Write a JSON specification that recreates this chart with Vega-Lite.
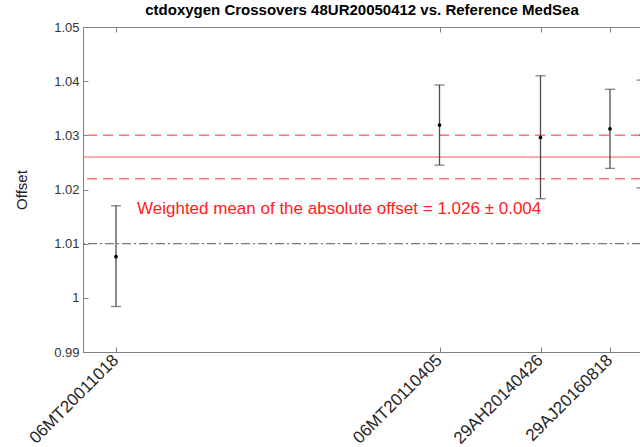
{
  "$schema": "https://vega.github.io/schema/vega-lite/v6.json",
  "width": 558,
  "height": 325,
  "autosize": {"type": "none"},
  "padding": {"left": 83, "top": 27, "right": 0, "bottom": 95},
  "title": {
    "text": "ctdoxygen Crossovers 48UR20050412 vs. Reference MedSea",
    "font": "Liberation Sans",
    "fontSize": 15,
    "fontWeight": "bold",
    "color": "#000000",
    "offset": 3
  },
  "config": {
    "font": "Liberation Sans",
    "view": {"stroke": "#808080", "strokeWidth": 1}
  },
  "datasets": {
    "crossovers": [
      {"name": "06MT20011018", "pos": 5.91, "offset": 1.0076, "lo": 0.9984, "hi": 1.0170},
      {"name": "06MT20110405", "pos": 63.89, "offset": 1.0319, "lo": 1.0245, "hi": 1.0393},
      {"name": "29AH20140426", "pos": 81.99, "offset": 1.0296, "lo": 1.0183, "hi": 1.0410},
      {"name": "29AJ20160818", "pos": 94.44, "offset": 1.0312, "lo": 1.0239, "hi": 1.0385},
      {"name": null, "pos": 100.1, "offset": 1.0301, "lo": 1.0203, "hi": 1.0402}
    ],
    "summary": [
      {"mean": 1.026, "lo": 1.022, "hi": 1.030, "reference": 1.01,
       "label": "Weighted mean of the absolute offset = 1.026 ± 0.004"}
    ]
  },
  "layer": [
    {
      "data": {"name": "summary"},
      "mark": {"type": "rule", "stroke": "#7a7a7a", "strokeWidth": 1.2, "strokeDash": [9, 3, 2, 3]},
      "encoding": {
        "y": {"field": "reference", "type": "quantitative",
              "scale": {"domain": [0.99, 1.05], "nice": false, "zero": false},
              "axis": {
                "title": "Offset",
                "titleFontSize": 15,
                "titleFontWeight": "normal",
                "titleColor": "#222222",
                "titlePadding": 24,
                "values": [0.99, 1.0, 1.01, 1.02, 1.03, 1.04, 1.05],
                "format": ".3~g",
                "labelFontSize": 13,
                "labelColor": "#333333",
                "labelPadding": 9,
                "tickSize": -5,
                "tickColor": "#808080",
                "domain": false,
                "grid": false
              }}
      }
    },
    {
      "data": {"name": "summary"},
      "mark": {"type": "rule", "stroke": "#ff5c5c", "strokeWidth": 1.2},
      "encoding": {"y": {"field": "mean", "type": "quantitative"}}
    },
    {
      "data": {"name": "summary"},
      "mark": {"type": "rule", "stroke": "#ff7070", "strokeWidth": 1.5, "strokeDash": [10, 6], "opacity": 1},
      "encoding": {"y": {"field": "lo", "type": "quantitative"}}
    },
    {
      "data": {"name": "summary"},
      "mark": {"type": "rule", "stroke": "#ff7070", "strokeWidth": 1.5, "strokeDash": [10, 6], "opacity": 1},
      "encoding": {"y": {"field": "hi", "type": "quantitative"}}
    },
    {
      "data": {"name": "summary"},
      "mark": {"type": "text", "fill": "#ff2020", "fontSize": 17, "align": "left", "baseline": "alphabetic"},
      "encoding": {
        "x": {"datum": 9.68, "type": "quantitative", "axis": null},
        "y": {"datum": 1.01545, "type": "quantitative"},
        "text": {"field": "label"}
      }
    },
    {
      "data": {"name": "crossovers"},
      "mark": {"type": "rule", "color": "#4d4d4d", "strokeWidth": 1.3},
      "encoding": {
        "x": {"field": "pos", "type": "quantitative",
              "scale": {"domain": [0, 100], "nice": false, "zero": false},
              "axis": {
                "orient": "bottom",
                "title": null,
                "values": [5.91, 63.89, 81.99, 94.44],
                "labels": false,
                "tickSize": -5,
                "tickColor": "#808080",
                "domain": false,
                "grid": false
              }},
        "y": {"field": "lo", "type": "quantitative"},
        "y2": {"field": "hi"}
      }
    },
    {
      "data": {"name": "crossovers"},
      "mark": {"type": "tick", "orient": "horizontal", "size": 10, "thickness": 1.3, "color": "#4d4d4d"},
      "encoding": {
        "x": {"field": "pos", "type": "quantitative", "axis": null},
        "y": {"field": "lo", "type": "quantitative"}
      }
    },
    {
      "data": {"name": "crossovers"},
      "mark": {"type": "tick", "orient": "horizontal", "size": 10, "thickness": 1.3, "color": "#4d4d4d"},
      "encoding": {
        "x": {"field": "pos", "type": "quantitative", "axis": null},
        "y": {"field": "hi", "type": "quantitative"}
      }
    },
    {
      "data": {"name": "crossovers"},
      "mark": {"type": "point", "filled": true, "size": 14, "color": "#000000", "opacity": 1},
      "encoding": {
        "x": {"field": "pos", "type": "quantitative",
              "axis": {
                "orient": "top",
                "title": null,
                "values": [5.91, 63.89, 81.99, 94.44],
                "labels": false,
                "tickSize": -5,
                "tickColor": "#808080",
                "domain": false,
                "grid": false
              }},
        "y": {"field": "offset", "type": "quantitative"}
      }
    },
    {
      "data": {"name": "crossovers"},
      "transform": [{"filter": "isValid(datum.name)"}],
      "mark": {"type": "text", "angle": 315, "align": "right", "baseline": "middle",
               "dx": -4, "dy": 4, "fontSize": 17, "color": "#262626"},
      "encoding": {
        "x": {"field": "pos", "type": "quantitative", "axis": null},
        "y": {"datum": 0.99, "type": "quantitative"},
        "text": {"field": "name"}
      }
    }
  ],
  "resolve": {"axis": {"x": "independent"}}
}
